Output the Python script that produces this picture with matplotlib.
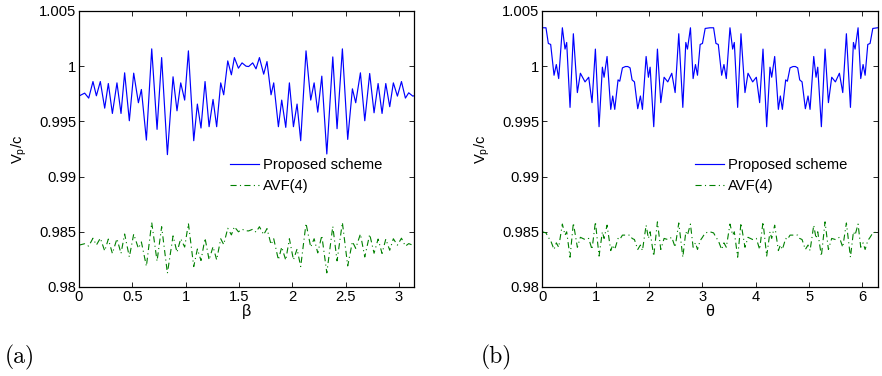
import matplotlib
matplotlib.use("Agg")
import matplotlib.pyplot as plt
import numpy as np

plt.rcParams['font.family'] = ['Liberation Sans', 'DejaVu Sans']
plt.rcParams['mathtext.fontset'] = 'custom'
plt.rcParams['mathtext.rm'] = 'Liberation Sans'
plt.rcParams['mathtext.it'] = 'Liberation Sans:italic'

# ---------------- data: panel (a), against beta ----------------
beta = [0.000, 0.053, 0.091, 0.131, 0.163, 0.200, 0.241, 0.275, 0.313, 0.356,
        0.394, 0.428, 0.472, 0.513, 0.557, 0.585, 0.632, 0.682, 0.732, 0.775,
        0.829, 0.882, 0.919, 0.954, 0.991, 1.026, 1.076, 1.110, 1.144, 1.182,
        1.220, 1.257, 1.291, 1.329, 1.357, 1.395, 1.429, 1.457, 1.495, 1.529,
        1.567, 1.591, 1.629, 1.660, 1.692, 1.732, 1.763, 1.801, 1.826, 1.870,
        1.901, 1.939, 1.973, 2.011, 2.045, 2.079, 2.129, 2.173, 2.205, 2.239,
        2.277, 2.324, 2.380, 2.420, 2.470, 2.520, 2.564, 2.595, 2.639, 2.680,
        2.726, 2.767, 2.805, 2.842, 2.877, 2.914, 2.948, 2.986, 3.024, 3.061,
        3.092, 3.130, 3.1416]

proposed_a = [0.99730, 0.99756, 0.99711, 0.99861, 0.99732, 0.99861, 0.99620, 0.99843, 0.99572, 0.99849,
              0.99572, 0.99940, 0.99506, 0.99937, 0.99669, 0.99789, 0.99331, 1.00157, 0.99428, 1.00078,
              0.99199, 0.99904, 0.99596, 0.99849, 0.99693, 1.00139, 0.99325, 0.99657, 0.99440, 0.99861,
              0.99452, 0.99699, 0.99452, 0.99849, 0.99741, 1.00048, 0.99922, 1.00078, 0.99982, 1.00030,
              1.00000, 0.99997, 1.00030, 0.99976, 1.00078, 0.99928, 1.00042, 0.99741, 0.99849, 0.99452,
              0.99693, 0.99446, 0.99849, 0.99452, 0.99657, 0.99325, 1.00139, 0.99693, 0.99849, 0.99584,
              0.99910, 0.99205, 1.00084, 0.99434, 1.00157, 0.99337, 0.99795, 0.99669, 0.99940, 0.99506,
              0.99934, 0.99578, 0.99843, 0.99572, 0.99843, 0.99633, 0.99849, 0.99729, 0.99861, 0.99711,
              0.99759, 0.99729, 0.99732]

avf4_a = [0.98379, 0.98392, 0.98370, 0.98442, 0.98380, 0.98442, 0.98327, 0.98434, 0.98304, 0.98437,
          0.98304, 0.98480, 0.98272, 0.98479, 0.98350, 0.98408, 0.98188, 0.98584, 0.98234, 0.98546,
          0.98125, 0.98463, 0.98315, 0.98437, 0.98362, 0.98576, 0.98185, 0.98344, 0.98240, 0.98442,
          0.98246, 0.98365, 0.98246, 0.98437, 0.98385, 0.98532, 0.98472, 0.98546, 0.98500, 0.98523,
          0.98509, 0.98508, 0.98523, 0.98497, 0.98546, 0.98474, 0.98529, 0.98385, 0.98437, 0.98246,
          0.98362, 0.98243, 0.98437, 0.98246, 0.98344, 0.98185, 0.98576, 0.98362, 0.98437, 0.98309,
          0.98466, 0.98128, 0.98549, 0.98237, 0.98584, 0.98191, 0.98411, 0.98350, 0.98480, 0.98272,
          0.98477, 0.98306, 0.98434, 0.98304, 0.98434, 0.98333, 0.98437, 0.98379, 0.98442, 0.98370,
          0.98393, 0.98379, 0.98380]

# ---------------- data: panel (b), against theta ----------------
theta = [0.000, 0.069, 0.113, 0.157, 0.220, 0.263, 0.307, 0.376, 0.426, 0.457,
         0.520, 0.582, 0.657, 0.714, 0.801, 0.870, 0.932, 0.995, 1.064, 1.126,
         1.158, 1.214, 1.283, 1.320, 1.358, 1.420, 1.452, 1.502, 1.558, 1.602,
         1.645, 1.683, 1.727, 1.789, 1.839, 1.877, 1.946, 1.989, 2.021, 2.089,
         2.158, 2.221, 2.283, 2.352, 2.427, 2.490, 2.558, 2.634, 2.690, 2.721,
         2.777, 2.827, 2.871, 2.909, 2.959, 3.002, 3.053, 3.142,
         3.211, 3.255, 3.299, 3.362, 3.405, 3.449, 3.518, 3.568, 3.599, 3.662,
         3.724, 3.799, 3.856, 3.943, 4.012, 4.074, 4.137, 4.206, 4.268, 4.300,
         4.356, 4.425, 4.462, 4.500, 4.562, 4.594, 4.644, 4.700, 4.744, 4.787,
         4.825, 4.869, 4.931, 4.981, 5.019, 5.088, 5.131, 5.163, 5.231, 5.300,
         5.363, 5.425, 5.494, 5.569, 5.632, 5.700, 5.776, 5.832, 5.863, 5.919,
         5.969, 6.013, 6.051, 6.101, 6.144, 6.195, 6.2832]

proposed_b = [1.00348, 1.00348, 1.00206, 1.00197, 0.99918, 1.00015, 0.99888, 1.00348, 1.00155, 1.00215,
              0.99627, 1.00294, 0.99761, 0.99936, 0.99858, 0.99900, 0.99670, 1.00155, 0.99452, 0.99991,
              0.99900, 1.00088, 0.99609, 0.99730, 0.99609, 0.99876, 0.99864, 0.99985, 0.99997, 0.99997,
              0.99985, 0.99876, 0.99858, 0.99615, 0.99730, 0.99609, 1.00088, 0.99900, 0.99991, 0.99452,
              1.00155, 0.99670, 0.99900, 0.99858, 0.99936, 0.99761, 1.00294, 0.99627, 1.00215, 1.00155,
              1.00348, 0.99888, 1.00015, 0.99918, 1.00197, 1.00206, 1.00342, 1.00348,
              1.00348, 1.00206, 1.00197, 0.99918, 1.00015, 0.99888, 1.00348, 1.00155, 1.00215,
              0.99627, 1.00294, 0.99761, 0.99936, 0.99858, 0.99900, 0.99670, 1.00155, 0.99452, 0.99991,
              0.99900, 1.00088, 0.99609, 0.99730, 0.99609, 0.99876, 0.99864, 0.99985, 0.99997, 0.99997,
              0.99985, 0.99876, 0.99858, 0.99615, 0.99730, 0.99609, 1.00088, 0.99900, 0.99991, 0.99452,
              1.00155, 0.99670, 0.99900, 0.99858, 0.99936, 0.99761, 1.00294, 0.99627, 1.00215, 1.00155,
              1.00348, 0.99888, 1.00015, 0.99918, 1.00197, 1.00206, 1.00342, 1.00348]

avf4_b = [0.98500, 0.98490, 0.98450, 0.98420, 0.98340, 0.98400, 0.98360, 0.98570, 0.98470, 0.98500,
          0.98270, 0.98580, 0.98360, 0.98450, 0.98430, 0.98440, 0.98340, 0.98590, 0.98280, 0.98500,
          0.98440, 0.98560, 0.98330, 0.98380, 0.98340, 0.98440, 0.98430, 0.98470, 0.98470, 0.98470,
          0.98470, 0.98440, 0.98430, 0.98340, 0.98380, 0.98330, 0.98560, 0.98440, 0.98500, 0.98280,
          0.98590, 0.98340, 0.98440, 0.98430, 0.98450, 0.98360, 0.98580, 0.98270, 0.98500, 0.98470,
          0.98570, 0.98360, 0.98400, 0.98340, 0.98420, 0.98450, 0.98490, 0.98500,
          0.98490, 0.98450, 0.98420, 0.98340, 0.98400, 0.98360, 0.98570, 0.98470, 0.98500,
          0.98270, 0.98580, 0.98360, 0.98450, 0.98430, 0.98440, 0.98340, 0.98590, 0.98280, 0.98500,
          0.98440, 0.98560, 0.98330, 0.98380, 0.98340, 0.98440, 0.98430, 0.98470, 0.98470, 0.98470,
          0.98470, 0.98440, 0.98430, 0.98340, 0.98380, 0.98330, 0.98560, 0.98440, 0.98500, 0.98280,
          0.98590, 0.98340, 0.98440, 0.98430, 0.98450, 0.98360, 0.98580, 0.98270, 0.98500, 0.98470,
          0.98570, 0.98360, 0.98400, 0.98340, 0.98420, 0.98450, 0.98490, 0.98500]

yticks = [0.98, 0.985, 0.99, 0.995, 1.0, 1.005]
ytick_labels = ['0.98', '0.985', '0.99', '0.995', '1', '1.005']
xticks_a = [0, 0.5, 1, 1.5, 2, 2.5, 3]
xtick_labels_a = ['0', '0.5', '1', '1.5', '2', '2.5', '3']
xticks_b = [0, 1, 2, 3, 4, 5, 6]
xtick_labels_b = ['0', '1', '2', '3', '4', '5', '6']
series_names = ['Proposed scheme', 'AVF(4)']

# ---------------- figure ----------------
W, H = 882, 376
fig = plt.figure(figsize=(W / 100, H / 100), dpi=100)

def px_axes(x0, x1, y0, y1):
    return fig.add_axes([x0 / W, 1 - y1 / H, (x1 - x0) / W, (y1 - y0) / H])

ax_a = px_axes(79, 414, 11, 287)
ax_b = px_axes(542.3, 877.5, 11, 287)

FS = 10.6
blue = '#0000ff'
green = '#008000'
dashdot = (0, (5.5, 3, 1, 3))

panels = [
    (ax_a, beta, proposed_a, avf4_a, xticks_a, xtick_labels_a, np.pi, 'β', 0.4507),
    (ax_b, theta, proposed_b, avf4_b, xticks_b, xtick_labels_b, 2 * np.pi, 'θ', 0.456),
]

for ax, xv, yb, yg, xt, xtl, xmax, xlab, legx in panels:
    ax.plot(xv, yb, color=blue, lw=0.85, label=series_names[0], solid_joinstyle='round')
    ax.plot(xv, yg, color=green, lw=0.8, linestyle=dashdot, label=series_names[1])
    ax.set_xlim(0, xmax)
    ax.set_ylim(0.98, 1.005)
    ax.set_xticks(xt)
    ax.set_xticklabels(xtl)
    ax.set_yticks(yticks)
    ax.set_yticklabels(ytick_labels)
    ax.tick_params(direction='in', length=3.5, width=0.6, top=True, right=True,
                   labelsize=FS, pad=2, colors='black')
    for s in ax.spines.values():
        s.set_linewidth(0.9)
    ax.set_xlabel(xlab, fontsize=FS + 1, labelpad=0)
    ax.set_ylabel(r'V$_\mathrm{p}$/c', fontsize=FS)
    ax.yaxis.set_label_coords(-0.15, 0.5)
    ax.legend(loc='upper left', bbox_to_anchor=(legx, 0.466), frameon=False,
              fontsize=FS, handlelength=1.95, handletextpad=0.3, borderpad=0,
              borderaxespad=0, labelspacing=0.45)

fig.text(5 / W, 1 - 357 / H, '(a)', family='cmr10', fontsize=17, va='center', ha='left')
fig.text(481 / W, 1 - 357 / H, '(b)', family='cmr10', fontsize=17, va='center', ha='left')

fig.savefig('out.png', dpi=100)
